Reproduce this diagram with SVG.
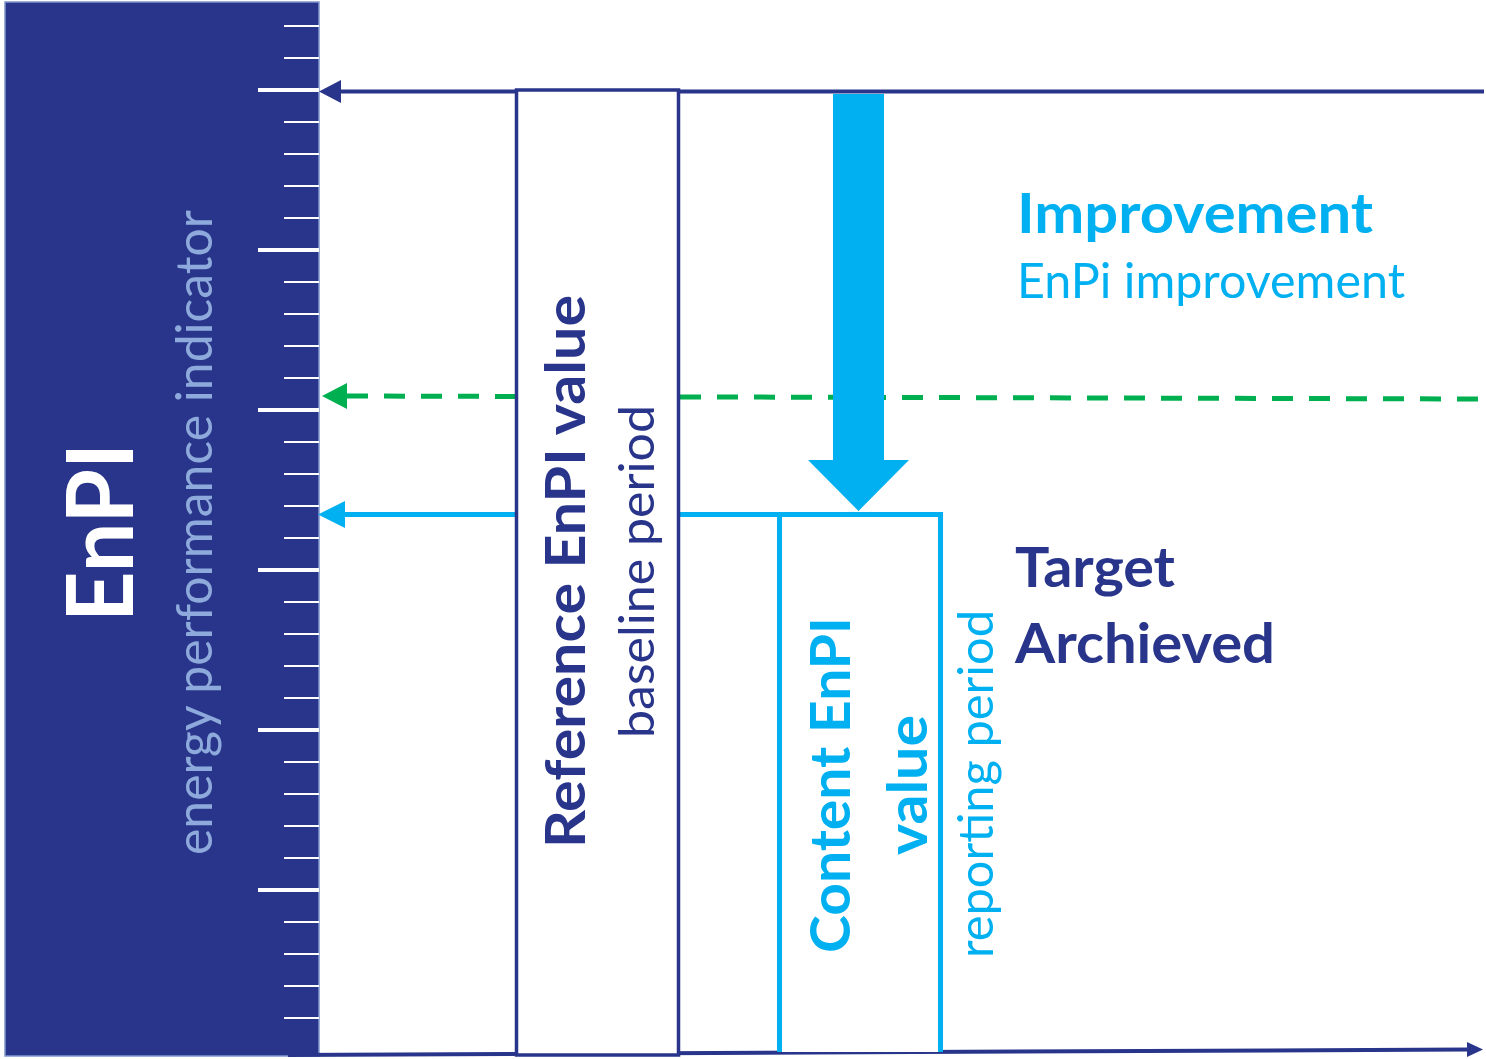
<svg xmlns="http://www.w3.org/2000/svg" width="1486" height="1059" viewBox="0 0 1486 1059">
<style>
.navy{fill:#28358A}
.cy{fill:#00B0F0}
.b{font-family:Lato,"Open Sans","Liberation Sans",sans-serif;font-weight:700}
.r{font-family:Lato,"Open Sans","Liberation Sans",sans-serif;font-weight:400}
.ts{stroke:#fff;stroke-width:1.8}
.tl{stroke:#fff;stroke-width:4}
</style>
<defs>
<marker id="mNavy" markerUnits="userSpaceOnUse" markerWidth="24" markerHeight="24" refX="0" refY="11" orient="auto-start-reverse" viewBox="0 0 24 22"><path d="M0,11 L23,0 L23,22 Z" fill="#28358A"/></marker>
</defs>
<g id="axis-panel">
<rect x="5" y="2" width="314" height="1054" fill="#28358A" stroke="#7f97cc" stroke-width="1.5"/>
<g id="ticks">
<line class="ts" x1="284" y1="26" x2="319" y2="26"/>
<line class="ts" x1="284" y1="58" x2="319" y2="58"/>
<line class="tl" x1="258" y1="90" x2="319" y2="90"/>
<line class="ts" x1="284" y1="122" x2="319" y2="122"/>
<line class="ts" x1="284" y1="154" x2="319" y2="154"/>
<line class="ts" x1="284" y1="186" x2="319" y2="186"/>
<line class="ts" x1="284" y1="218" x2="319" y2="218"/>
<line class="tl" x1="258" y1="250" x2="319" y2="250"/>
<line class="ts" x1="284" y1="282" x2="319" y2="282"/>
<line class="ts" x1="284" y1="314" x2="319" y2="314"/>
<line class="ts" x1="284" y1="346" x2="319" y2="346"/>
<line class="ts" x1="284" y1="378" x2="319" y2="378"/>
<line class="tl" x1="258" y1="410" x2="319" y2="410"/>
<line class="ts" x1="284" y1="442" x2="319" y2="442"/>
<line class="ts" x1="284" y1="474" x2="319" y2="474"/>
<line class="ts" x1="284" y1="506" x2="319" y2="506"/>
<line class="ts" x1="284" y1="538" x2="319" y2="538"/>
<line class="tl" x1="258" y1="570" x2="319" y2="570"/>
<line class="ts" x1="284" y1="602" x2="319" y2="602"/>
<line class="ts" x1="284" y1="634" x2="319" y2="634"/>
<line class="ts" x1="284" y1="666" x2="319" y2="666"/>
<line class="ts" x1="284" y1="698" x2="319" y2="698"/>
<line class="tl" x1="258" y1="730" x2="319" y2="730"/>
<line class="ts" x1="284" y1="762" x2="319" y2="762"/>
<line class="ts" x1="284" y1="794" x2="319" y2="794"/>
<line class="ts" x1="284" y1="826" x2="319" y2="826"/>
<line class="ts" x1="284" y1="858" x2="319" y2="858"/>
<line class="tl" x1="258" y1="890" x2="319" y2="890"/>
<line class="ts" x1="284" y1="922" x2="319" y2="922"/>
<line class="ts" x1="284" y1="954" x2="319" y2="954"/>
<line class="ts" x1="284" y1="986" x2="319" y2="986"/>
<line class="ts" x1="284" y1="1018" x2="319" y2="1018"/>
</g>
<text class="b" transform="translate(133,532.5) rotate(-90)" text-anchor="middle" font-size="92" fill="#fff" textLength="179" lengthAdjust="spacingAndGlyphs">EnPI</text>
<text class="r" transform="translate(212,532.5) rotate(-90)" text-anchor="middle" font-size="50" fill="#8EA9DB" textLength="645" lengthAdjust="spacingAndGlyphs">energy performance indicator</text>
</g>
<g id="connectors">
<line x1="1484" y1="91.5" x2="340" y2="91.5" stroke="#28358A" stroke-width="4"/>
<path d="M319,91.5 L341,80 L341,103 Z" fill="#28358A"/>
<path d="M347,396 L1484,399" stroke="#00B050" stroke-width="5" stroke-dasharray="21 16" fill="none"/>
<path d="M322,396 L347,383 L347,409 Z" fill="#00B050"/>
<line x1="343" y1="514.5" x2="940" y2="514.5" stroke="#00B0F0" stroke-width="5"/>
<path d="M318,514.5 L345,501 L345,528 Z" fill="#00B0F0"/>
<path d="M288,1055 L1468,1049.5" stroke="#28358A" stroke-width="4" fill="none"/>
<path d="M1483,1049.5 L1467,1042 L1467,1057 Z" fill="#28358A"/>
</g>
<g id="reference-box">
<rect x="516.5" y="90" width="162" height="965" fill="#fff" stroke="#28358A" stroke-width="3.5"/>
<text class="b navy" transform="translate(585,571.5) rotate(-90)" text-anchor="middle" font-size="56" textLength="553" lengthAdjust="spacingAndGlyphs">Reference EnPI value</text>
<text class="r navy" transform="translate(654,571.5) rotate(-90)" text-anchor="middle" font-size="48" textLength="333" lengthAdjust="spacingAndGlyphs">baseline period</text>
</g>
<g id="content-box">
<path d="M779.5,1052 L779.5,514.5 L940.5,514.5 L940.5,1052" fill="#fff" stroke="#00B0F0" stroke-width="5"/>
<text class="b cy" transform="translate(850,785) rotate(-90)" text-anchor="middle" font-size="56" textLength="336" lengthAdjust="spacingAndGlyphs">Content EnPI</text>
<text class="b cy" transform="translate(927,785) rotate(-90)" text-anchor="middle" font-size="56" textLength="140" lengthAdjust="spacingAndGlyphs">value</text>
<text class="r cy" transform="translate(993,784) rotate(-90)" text-anchor="middle" font-size="48" textLength="348" lengthAdjust="spacingAndGlyphs">reporting period</text>
</g>
<g id="improvement-arrow">
<path d="M833,94 L884,94 L884,460 L909,460 L858.5,511 L808,460 L833,460 Z" fill="#00B0F0"/>
</g>
<g id="improvement-label">
<text class="b cy" x="1017" y="233" font-size="56" textLength="356" lengthAdjust="spacingAndGlyphs">Improvement</text>
<text class="r cy" x="1017" y="298" font-size="48" textLength="388" lengthAdjust="spacingAndGlyphs">EnPi improvement</text>
</g>
<g id="target-label">
<text class="b navy" x="1015" y="587" font-size="56" textLength="160" lengthAdjust="spacingAndGlyphs">Target</text>
<text class="b navy" x="1015" y="663" font-size="56" textLength="260" lengthAdjust="spacingAndGlyphs">Archieved</text>
</g>
</svg>
